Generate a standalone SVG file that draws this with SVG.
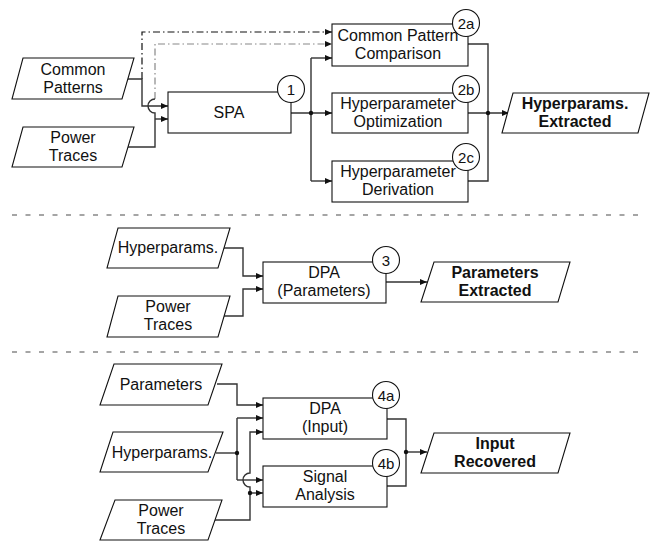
<svg xmlns="http://www.w3.org/2000/svg" width="653" height="542" viewBox="0 0 653 542">
<defs>
<marker id="ar" markerUnits="userSpaceOnUse" markerWidth="8" markerHeight="6" refX="7" refY="3" orient="auto">
<path d="M0,0 L7,3 L0,6 z" fill="#111"/>
</marker>
<style>
.box{fill:#fff;stroke:#111;stroke-width:1.1}
.num{fill:#fff;stroke:#111;stroke-width:1.1}
text{font-family:"Liberation Sans",Arial,sans-serif}
.t{font-size:16px;fill:#111;text-anchor:middle}
.b{font-weight:bold}
.n{font-size:15px;fill:#111;text-anchor:middle}
.c{fill:none;stroke:#333;stroke-width:1.4}
.ca{fill:none;stroke:#333;stroke-width:1.4;marker-end:url(#ar)}
.dd{fill:none;stroke:#111;stroke-width:1.2;stroke-dasharray:7 3 1.5 3;marker-end:url(#ar)}
.dg{fill:none;stroke:#888;stroke-width:1.2;stroke-dasharray:7 3 1.5 3;marker-end:url(#ar)}
.sep{stroke:#888;stroke-width:1.3;stroke-dasharray:5 8.5}
.dot{fill:#111}
</style>
</defs>

<line class="sep" x1="12" y1="215" x2="645" y2="215"/>
<line class="sep" x1="12" y1="352" x2="645" y2="352"/>

<g id="connectors">
<path class="dd" d="M142,79 V32 H332"/>
<path class="dg" d="M155,99 V44 H332"/>
<path class="ca" d="M128,79 H142 V106 H168"/>
<path class="c" d="M128,147 H155 V113 A7,7 0 0 1 155,99"/>
<path class="ca" d="M155,119 H168"/>
<path class="ca" d="M291,113 H332"/>
<path class="c" d="M311,58 V181"/>
<path class="ca" d="M311,58 H332"/>
<path class="ca" d="M311,181 H332"/>
<circle class="dot" cx="311" cy="113" r="2.2"/>
<path class="c" d="M468,44 H488 V181 H468"/>
<path class="ca" d="M468,113 H509"/>
<circle class="dot" cx="488" cy="113" r="2.2"/>
<path class="ca" d="M223,248 H243 V276 H263"/>
<path class="ca" d="M224,316 H243 V289 H263"/>
<path class="ca" d="M386,282 H427"/>
<path class="ca" d="M217,384 H237 V405 H263"/>
<path class="c" d="M216,453 H237"/>
<path class="c" d="M237,418 V480"/>
<path class="ca" d="M237,418 H263"/>
<path class="ca" d="M237,480 H263"/>
<circle class="dot" cx="237" cy="453" r="2.2"/>
<path class="ca" d="M212,520 H250 V487 A7,7 0 0 1 250,473 V432 H263"/>
<path class="ca" d="M250,493 H263"/>
<circle class="dot" cx="250" cy="493" r="2.2"/>
<path class="c" d="M387,419 H406 V486 H387"/>
<path class="ca" d="M406,452 H427"/>
<circle class="dot" cx="406" cy="452" r="2.2"/>
</g>

<g id="common-patterns">
<polygon class="box" points="23,58 134,58 122,99 12,99"/>
<text class="t" x="73" y="75">Common<tspan x="73" dy="18">Patterns</tspan></text>
</g>
<g id="power-traces-1">
<polygon class="box" points="23,127 134,127 122,167 12,167"/>
<text class="t" x="73" y="143">Power<tspan x="73" dy="18">Traces</tspan></text>
</g>
<g id="spa">
<rect class="box" x="168" y="92" width="123" height="41"/>
<text class="t" x="229" y="118">SPA</text>
<circle class="num" cx="291" cy="89" r="13.5"/>
<text class="n" x="291" y="94.5">1</text>
</g>
<g id="cpc">
<rect class="box" x="332" y="24" width="136" height="42"/>
<text class="t" x="398" y="41">Common Pattern<tspan x="398" dy="18">Comparison</tspan></text>
<circle class="num" cx="466" cy="23" r="13.5"/>
<text class="n" x="466" y="28.5">2a</text>
</g>
<g id="hyper-opt">
<rect class="box" x="332" y="93" width="136" height="40"/>
<text class="t" x="398" y="109">Hyperparameter<tspan x="398" dy="18">Optimization</tspan></text>
<circle class="num" cx="466" cy="89" r="13.5"/>
<text class="n" x="466" y="94.5">2b</text>
</g>
<g id="hyper-deriv">
<rect class="box" x="332" y="161" width="136" height="41"/>
<text class="t" x="398" y="177">Hyperparameter<tspan x="398" dy="18">Derivation</tspan></text>
<circle class="num" cx="466" cy="157" r="13.5"/>
<text class="n" x="466" y="162.5">2c</text>
</g>
<g id="hyperparams-extracted">
<polygon class="box" points="513,93 649,93 638,133 502,133"/>
<text class="t b" x="575" y="109">Hyperparams.<tspan x="575" dy="18">Extracted</tspan></text>
</g>

<g id="hyperparams-2">
<polygon class="box" points="118,228 230,228 218,268 107,268"/>
<text class="t" x="168" y="253">Hyperparams.</text>
</g>
<g id="power-traces-2">
<polygon class="box" points="118,296 230,296 218,337 107,337"/>
<text class="t" x="168" y="312">Power<tspan x="168" dy="18">Traces</tspan></text>
</g>
<g id="dpa-params">
<rect class="box" x="263" y="262" width="123" height="41"/>
<text class="t" x="324" y="278">DPA<tspan x="324" dy="18">(Parameters)</tspan></text>
<circle class="num" cx="386" cy="260" r="13.5"/>
<text class="n" x="386" y="265.5">3</text>
</g>
<g id="parameters-extracted">
<polygon class="box" points="434,262 570,262 558,302 421,302"/>
<text class="t b" x="495" y="278">Parameters<tspan x="495" dy="18">Extracted</tspan></text>
</g>

<g id="parameters-3">
<polygon class="box" points="114,364 222,364 208,405 100,405"/>
<text class="t" x="161" y="390">Parameters</text>
</g>
<g id="hyperparams-3">
<polygon class="box" points="113,432 223,432 208,472 100,472"/>
<text class="t" x="162" y="458">Hyperparams.</text>
</g>
<g id="power-traces-3">
<polygon class="box" points="115,500 222,500 208,540 100,540"/>
<text class="t" x="161" y="516">Power<tspan x="161" dy="18">Traces</tspan></text>
</g>
<g id="dpa-input">
<rect class="box" x="263" y="398" width="124" height="41"/>
<text class="t" x="325" y="414">DPA<tspan x="325" dy="18">(Input)</tspan></text>
<circle class="num" cx="386" cy="395" r="13.5"/>
<text class="n" x="386" y="400.5">4a</text>
</g>
<g id="signal-analysis">
<rect class="box" x="263" y="466" width="124" height="41"/>
<text class="t" x="325" y="482">Signal<tspan x="325" dy="18">Analysis</tspan></text>
<circle class="num" cx="386" cy="463" r="13.5"/>
<text class="n" x="386" y="468.5">4b</text>
</g>
<g id="input-recovered">
<polygon class="box" points="434,433 570,433 558,473 421,473"/>
<text class="t b" x="495" y="449">Input<tspan x="495" dy="18">Recovered</tspan></text>
</g>
</svg>
